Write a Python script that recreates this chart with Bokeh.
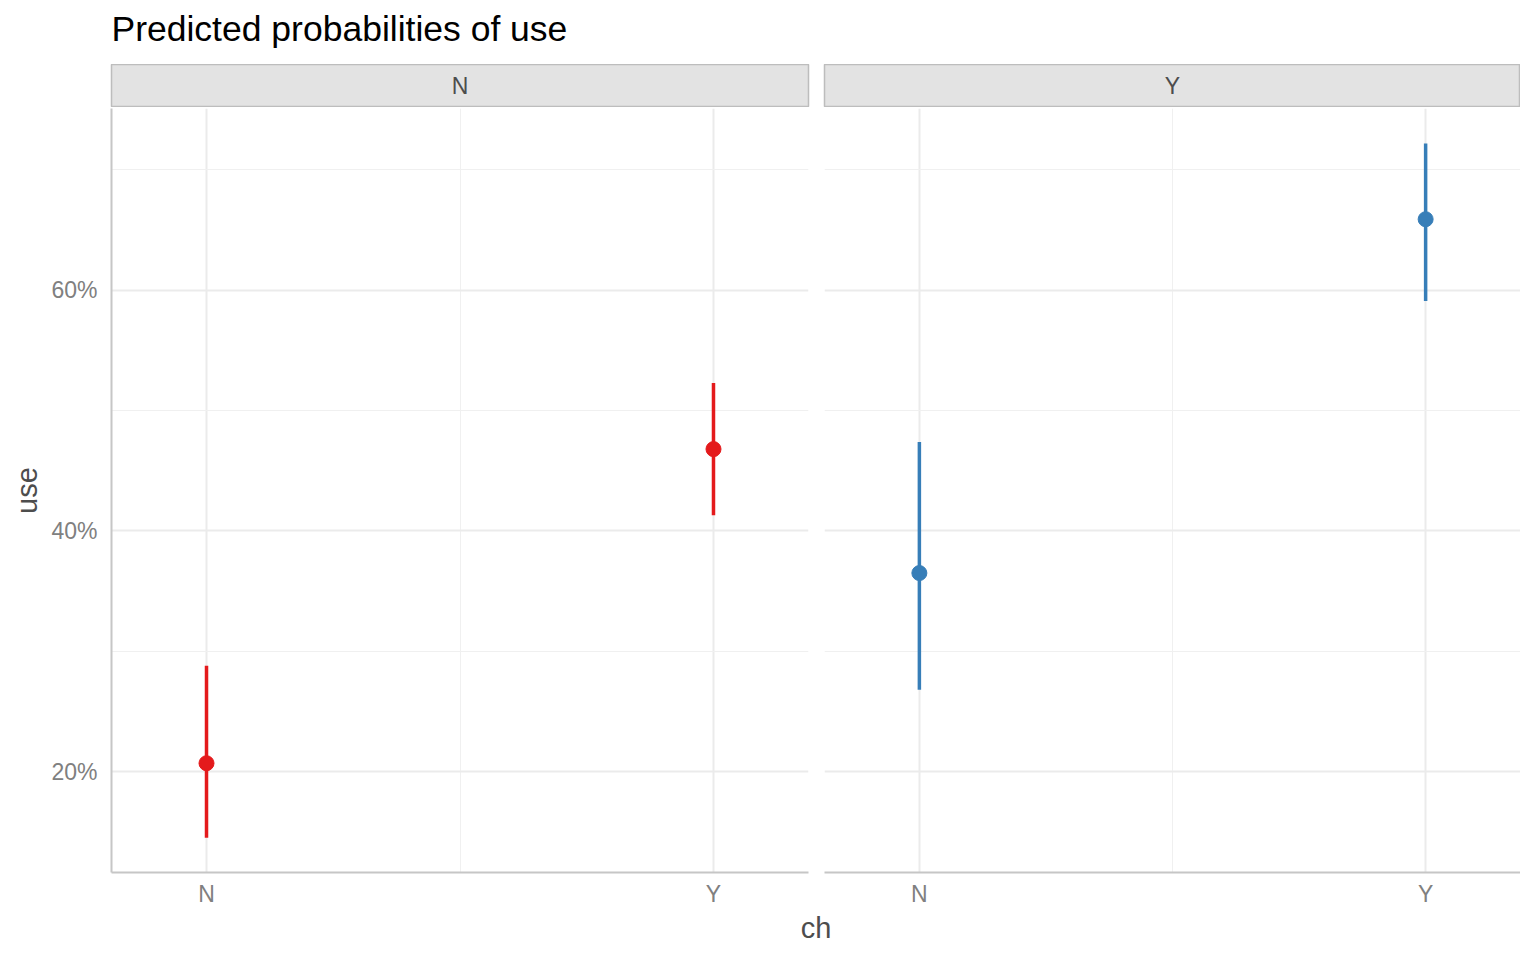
from bokeh.plotting import figure
from bokeh.layouts import column, row
from bokeh.models import Range1d, FixedTicker, NumeralTickFormatter
from bokeh.core.properties import value
from bokeh.embed import file_html
from bokeh.resources import INLINE

# ---- data ----
facets = ["N", "Y"]
ch_labels = ["N", "Y"]
ch_pos = [0, 1]
est_N = [0.207, 0.468]
lo_N = [0.145, 0.413]
hi_N = [0.288, 0.523]
est_Y = [0.365, 0.659]
lo_Y = [0.268, 0.591]
hi_Y = [0.474, 0.722]
colors = ["#e41a1c", "#377eb8"]
y_ticks = [0.2, 0.4, 0.6]
y_minor = [0.1, 0.3, 0.5, 0.7]
title_text = "Predicted probabilities of use"
ylab = "use"
xlab = "ch"

FONT = "Liberation Sans"
XR = (-0.1874, 1.1874)
YR = (0.1162, 0.7510)

FRAME_H = 765
TITLE_H = 64
BOTTOM = 36
XL_H = 42


def blank_fig(height, left):
    p = figure(width=1520, height=height, x_range=Range1d(0, 1), y_range=Range1d(0, 1),
               output_backend="svg", toolbar_location=None,
               min_border_left=left, min_border_right=0, min_border_top=0, min_border_bottom=0,
               x_axis_location=None, y_axis_location=None)
    p.xgrid.visible = False
    p.ygrid.visible = False
    p.outline_line_color = None
    return p


def strip_fig(label, left, width_frame, right):
    p = figure(width=left + width_frame + right, height=43,
               x_range=Range1d(0, 1), y_range=Range1d(0, 1),
               output_backend="svg", toolbar_location=None,
               min_border_left=left, min_border_right=right,
               min_border_top=0, min_border_bottom=0,
               x_axis_location=None, y_axis_location=None)
    p.xgrid.visible = False
    p.ygrid.visible = False
    p.background_fill_color = "#e3e3e3"
    p.outline_line_color = "#bdbdbd"
    p.outline_line_width = 1.5
    p.text(x=[0.5], y=[0.5], text=[label], text_align="center",
           text_baseline="middle", text_font=value(FONT),
           text_font_size=value("23px"), text_color="#4d4d4d")
    return p


def panel_fig(est, lo, hi, color, left, width_frame, right, show_left):
    p = figure(width=left + width_frame + right, height=1 + FRAME_H + BOTTOM,
               x_range=Range1d(*XR), y_range=Range1d(*YR),
               output_backend="svg", toolbar_location=None,
               min_border_left=left, min_border_right=right,
               min_border_top=1, min_border_bottom=BOTTOM)
    p.outline_line_color = None
    xt = FixedTicker(ticks=ch_pos, minor_ticks=[0.5])
    yt = FixedTicker(ticks=y_ticks, minor_ticks=y_minor)
    p.xaxis.ticker = xt
    p.xaxis.major_label_overrides = {pos: lab for pos, lab in zip(ch_pos, ch_labels)}
    p.xgrid.ticker = xt
    p.yaxis.ticker = yt
    p.ygrid.ticker = yt
    p.yaxis.formatter = NumeralTickFormatter(format="0%")
    for ax in (p.xaxis, p.yaxis):
        ax.major_tick_line_color = None
        ax.minor_tick_line_color = None
        ax.major_tick_out = 0
        ax.major_label_text_font = FONT
        ax.major_label_text_font_size = "23px"
        ax.major_label_text_color = "#808080"
        ax.axis_line_color = "#c6c6c6"
        ax.axis_line_width = 2
    p.xaxis.major_label_standoff = 4
    p.yaxis.major_label_standoff = 10
    for g in (p.xgrid, p.ygrid):
        g.grid_line_color = "#ebebeb"
        g.grid_line_width = 2
        g.minor_grid_line_color = "#f0f0f0"
        g.minor_grid_line_width = 1
    if show_left:
        p.yaxis.axis_label = ylab
        p.yaxis.axis_label_text_font = FONT
        p.yaxis.axis_label_text_font_size = "29px"
        p.yaxis.axis_label_text_font_style = "normal"
        p.yaxis.axis_label_text_color = "#4d4d4d"
        p.yaxis.axis_label_standoff = 5
    else:
        p.yaxis.visible = False
    p.segment(x0=ch_pos, y0=lo, x1=ch_pos, y1=hi, line_color=color, line_width=3.5)
    p.scatter(x=ch_pos, y=est, size=15, fill_color=color, line_color=color)
    return p


# title row: text left-aligned with the panel area, centred ~28px from the top
tf = blank_fig(TITLE_H, 111)
tf.text(x=[0], y=[1 - 28 / TITLE_H], text=[title_text], text_align="left",
        text_baseline="middle", text_font=value(FONT),
        text_font_size=value("35.5px"), text_color="#000000")

s1 = strip_fig(facets[0], 111, 697, 8)
s2 = strip_fig(facets[1], 8, 696, 0)
p1 = panel_fig(est_N, lo_N, hi_N, colors[0], 111, 697, 8, True)
p2 = panel_fig(est_Y, lo_Y, hi_Y, colors[1], 8, 696, 0, False)

xl = blank_fig(XL_H, 111)
xl.text(x=[0.5], y=[0.55], text=[xlab], text_align="center", text_baseline="middle",
        text_font=value(FONT), text_font_size=value("29px"), text_color="#4d4d4d")

layout = column(tf, row(s1, s2), row(p1, p2), xl)

open("out.html", "w").write(file_html(layout, INLINE))
